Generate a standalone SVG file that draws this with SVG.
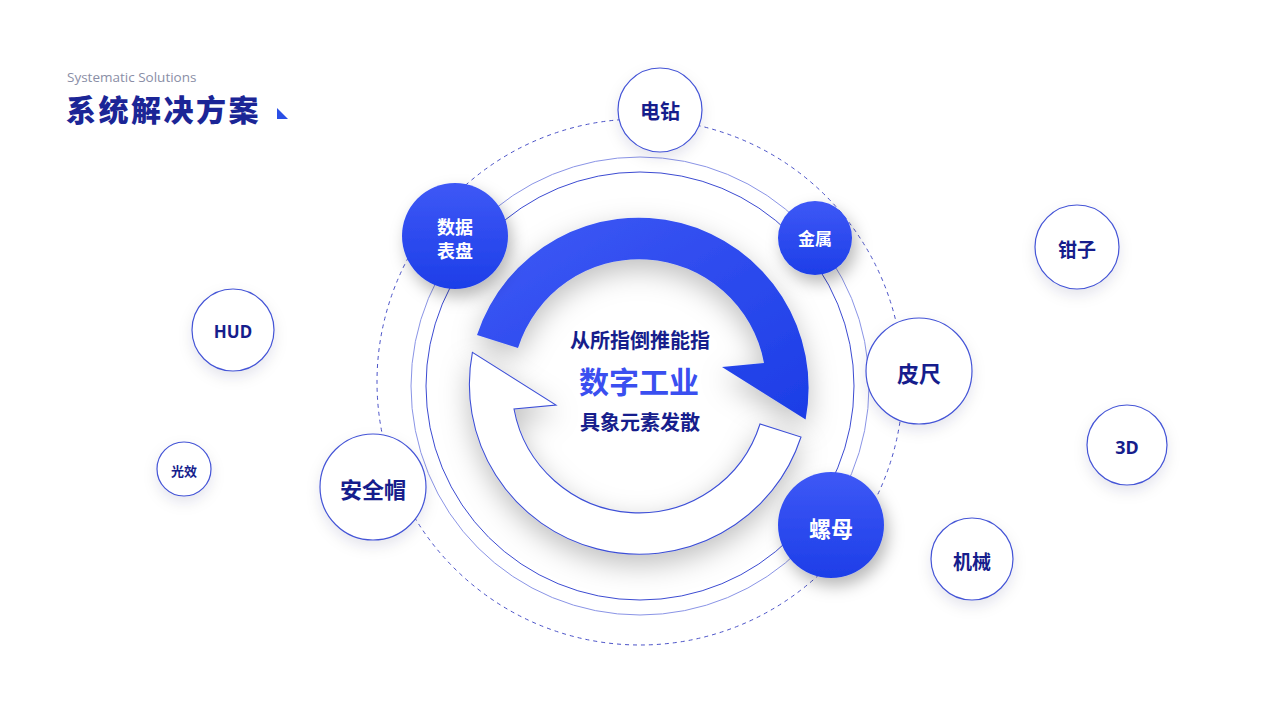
<svg xmlns="http://www.w3.org/2000/svg" width="1280" height="720" viewBox="0 0 1280 720">
<defs>
<style>
.cjk{font-family:"Noto Sans CJK SC","Noto Sans",sans-serif;font-weight:700;text-anchor:middle;dominant-baseline:central}
.lat{font-family:"Noto Sans","Open Sans",sans-serif;font-weight:700;text-anchor:middle;dominant-baseline:central}
.wnode{fill:#ffffff;stroke:#4454d6;stroke-width:1.2;filter:url(#softShadow)}
.bnode{fill:url(#blueGrad);filter:url(#blueShadow)}
.navy{fill:#161d8c}
.wtxt{fill:#ffffff}
.ring{fill:none}
</style>
<linearGradient id="blueGrad" x1="0" y1="0" x2="0" y2="1">
<stop offset="0" stop-color="#3e58f6"/>
<stop offset="1" stop-color="#1d3ee8"/>
</linearGradient>
<linearGradient id="arrowGrad" x1="0" y1="0" x2="1" y2="1">
<stop offset="0" stop-color="#3f59f6"/>
<stop offset="1" stop-color="#1c3de6"/>
</linearGradient>
<filter id="softShadow" x="-40%" y="-40%" width="180%" height="180%">
<feDropShadow dx="0" dy="6" stdDeviation="7" flood-color="#1a2050" flood-opacity="0.10"/>
</filter>
<filter id="blueShadow" x="-50%" y="-50%" width="200%" height="200%">
<feDropShadow dx="4" dy="8" stdDeviation="8" flood-color="#000000" flood-opacity="0.28"/>
</filter>
<filter id="arrowShadow" x="-30%" y="-30%" width="160%" height="160%">
<feDropShadow dx="0" dy="10" stdDeviation="14" flood-color="#000000" flood-opacity="0.25"/>
</filter>
</defs>
<rect width="1280" height="720" fill="#ffffff"/>

<g id="title">
<text x="67" y="82" font-family="'Open Sans','Noto Sans',sans-serif" font-size="13.5" fill="#8a8ea6">Systematic Solutions</text>
<text x="66" y="121" font-family="'Noto Sans CJK SC',sans-serif" font-weight="900" font-size="30" fill="#1b2596" letter-spacing="2.5">系统解决方案</text>
<polygon points="277,108 277,119 288,119" fill="#2a4fe6"/>
</g>

<g id="connectors">
<circle class="ring" cx="640" cy="382" r="263" stroke="#4a52c8" stroke-width="1" stroke-dasharray="4 4"/>
<circle class="ring" cx="640" cy="386" r="229" stroke="#8a94e6" stroke-width="1"/>
<circle class="ring" cx="640" cy="386" r="214" stroke="#3c4bd2" stroke-width="1"/>
</g>

<g id="cycle">
<path d="M477,335 A170,170 0 0 1 805.6,419.6 L722,367 L764,363 A127,127 0 0 0 518,348 Z" fill="url(#arrowGrad)" filter="url(#arrowShadow)"/>
<path d="M801,437 A170,170 0 0 1 472.4,352.4 L556,405 L514,409 A127,127 0 0 0 760,424 Z" fill="#ffffff" stroke="#3d4fd6" stroke-width="1.1" filter="url(#arrowShadow)"/>
</g>

<g id="center-text">
<text class="cjk navy" x="640" y="339" font-size="20">从所指倒推能指</text>
<text class="cjk" x="639" y="380" font-size="30" fill="#3a4ff0">数字工业</text>
<text class="cjk navy" x="640" y="421" font-size="20">具象元素发散</text>
</g>

<g id="node-dianzuan">
<circle class="wnode" cx="660" cy="110" r="42"/>
<text class="cjk navy" x="660" y="110" font-size="20">电钻</text>
</g>
<g id="node-shujubiaopan">
<circle class="bnode" cx="455" cy="236" r="53"/>
<text class="cjk wtxt" x="455" y="226" font-size="18">数据</text>
<text class="cjk wtxt" x="455" y="250" font-size="18">表盘</text>
</g>
<g id="node-jinshu">
<circle class="bnode" cx="815" cy="238" r="37"/>
<text class="cjk wtxt" x="815" y="237" font-size="17">金属</text>
</g>
<g id="node-pichi">
<circle class="wnode" cx="919" cy="371" r="53"/>
<text class="cjk navy" x="919" y="372" font-size="22">皮尺</text>
</g>
<g id="node-luomu">
<circle class="bnode" cx="831" cy="525" r="53"/>
<text class="cjk wtxt" x="831" y="527" font-size="22">螺母</text>
</g>
<g id="node-anquanmao">
<circle class="wnode" cx="373" cy="487" r="53"/>
<text class="cjk navy" x="373" y="488" font-size="22">安全帽</text>
</g>
<g id="node-hud">
<circle class="wnode" cx="233" cy="330" r="41"/>
<text class="lat navy" x="233" y="331" font-size="17">HUD</text>
</g>
<g id="node-guangxiao">
<circle class="wnode" cx="184" cy="469" r="27"/>
<text class="cjk navy" x="184" y="470" font-size="13">光效</text>
</g>
<g id="node-qianzi">
<circle class="wnode" cx="1077" cy="247" r="42"/>
<text class="cjk navy" x="1077" y="248" font-size="19">钳子</text>
</g>
<g id="node-3d">
<circle class="wnode" cx="1127" cy="445" r="40"/>
<text class="lat navy" x="1127" y="447" font-size="18">3D</text>
</g>
<g id="node-jixie">
<circle class="wnode" cx="972" cy="559" r="41"/>
<text class="cjk navy" x="972" y="560" font-size="19">机械</text>
</g>
</svg>
